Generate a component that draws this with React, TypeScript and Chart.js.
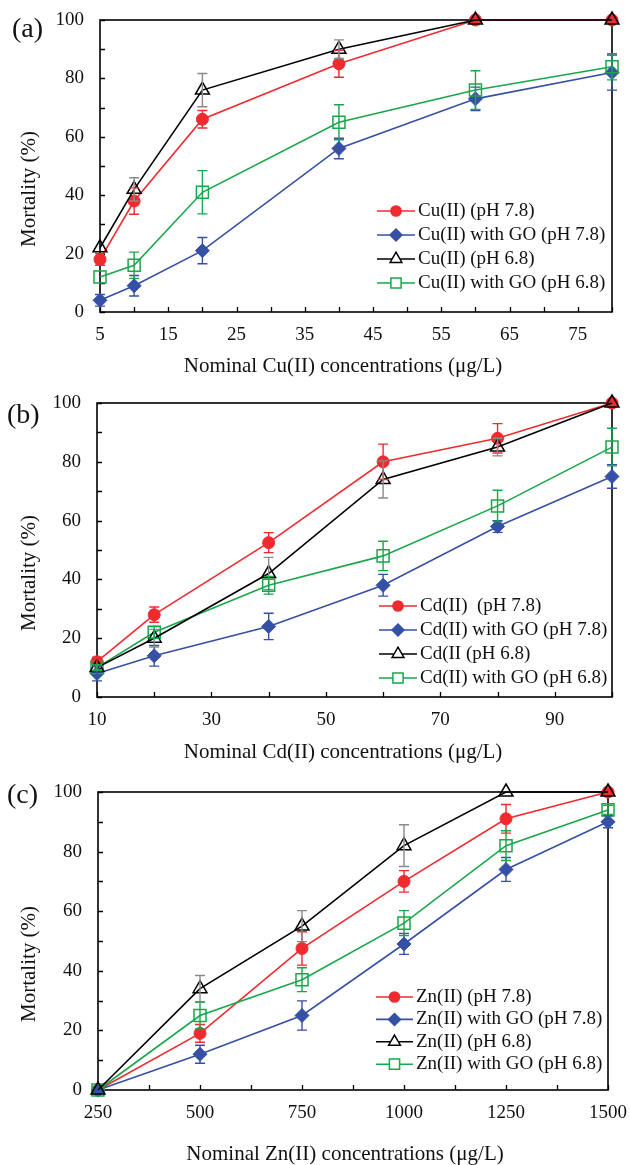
import React, { useEffect, useRef } from "react";
import { Chart, registerables } from "chart.js";

Chart.register(...registerables);

// ---------------- Panel (a): Cu(II) ----------------
const cuConcentrations = [5, 10, 20, 40, 60, 80];
const cuPH78 = [18, 38, 66, 85, 100, 100];
const cuPH78Err = [2, 4.5, 3, 4.6, 0, 0];
const cuGOPH78 = [4, 9, 21, 56, 73, 82];
const cuGOPH78Err = [2, 3.5, 4.5, 3.5, 4, 6];
const cuPH68 = [22, 42, 76, 90, 100, 100];
const cuPH68Err = [0, 4, 5.7, 3.2, 0, 0];
const cuGOPH68 = [12, 16, 41, 65, 76, 84];
const cuGOPH68Err = [0, 4.5, 7.4, 6, 6.6, 4.5];
const cuXTickLabels = [5, 15, 25, 35, 45, 55, 65, 75];
const cuXTickMarks = [5, 10, 15, 20, 25, 30, 35, 40, 45, 50, 55, 60, 65, 70, 75, 80];
const cuLegend = ["Cu(II) (pH 7.8)", "Cu(II) with GO (pH 7.8)", "Cu(II) (pH 6.8)", "Cu(II) with GO (pH 6.8)"];

// ---------------- Panel (b): Cd(II) ----------------
const cdConcentrations = [10, 20, 40, 60, 80, 100];
const cdPH78 = [12, 28, 52.5, 80, 88, 100];
const cdPH78Err = [1.5, 2.6, 3.4, 6, 5, 0];
const cdGOPH78 = [8, 14, 24, 38, 58, 75];
const cdGOPH78Err = [2.5, 3.5, 4.5, 3.7, 2, 4];
const cdPH68 = [10, 20, 42, 74, 85, 100];
const cdPH68Err = [1, 3, 5.5, 6.3, 3, 0];
const cdGOPH68 = [10, 22, 38, 48, 65, 85];
const cdGOPH68Err = [1, 2, 3, 5, 5.3, 6.4];
const cdXTickLabels = [10, 30, 50, 70, 90];
const cdXTickMarks = [10, 20, 30, 40, 50, 60, 70, 80, 90, 100];
const cdLegend = ["Cd(II)  (pH 7.8)", "Cd(II) with GO (pH 7.8)", "Cd(II (pH 6.8)", "Cd(II) with GO (pH 6.8)"];

// ---------------- Panel (c): Zn(II) ----------------
const znConcentrations = [250, 500, 750, 1000, 1250, 1500];
const znPH78 = [0, 19, 47.5, 70, 91, 100];
const znPH78Err = [0, 3, 5.6, 3.6, 4.8, 0];
const znGOPH78 = [0, 12, 25, 49, 74, 90];
const znGOPH78Err = [0, 3, 4.9, 3.5, 4, 2];
const znPH68 = [0, 34, 55, 82, 100, 100];
const znPH68Err = [0, 4.4, 5.2, 7, 0, 0];
const znGOPH68 = [0, 25, 37, 56, 82, 94];
const znGOPH68Err = [0, 4.5, 4, 4.2, 5, 1.5];
const znXTickLabels = [250, 500, 750, 1000, 1250, 1500];
const znXTickMarks = [250, 375, 500, 625, 750, 875, 1000, 1125, 1250, 1375, 1500];
const znLegend = ["Zn(II) (pH 7.8)", "Zn(II) with GO (pH 7.8)", "Zn(II) (pH 6.8)", "Zn(II) with GO (pH 6.8)"];

// ---------------- Shared axis ----------------
const yTickLabels = [0, 20, 40, 60, 80, 100];
const yTickMarks = [0, 10, 20, 30, 40, 50, 60, 70, 80, 90, 100];
const yTitle = "Mortality (%)";

// ---------------- Styles ----------------
const FONT = '"Liberation Serif", "Times New Roman", serif';
const RED = "#EE2B2F";
const BLUE = "#3550A5";
const BLACK = "#000000";
const GREEN = "#1AA64A";
const GRAY = "#8A8A8A";

type MarkerStyle = "circle" | "rectRot" | "triangle" | "rect";

interface SeriesStyle {
  color: string;
  errColor: string;
  marker: MarkerStyle;
  radius: number;
  filled: boolean;
  order: number;
}

const seriesStyles: SeriesStyle[] = [
  { color: RED, errColor: RED, marker: "circle", radius: 6, filled: true, order: 3 },
  { color: BLUE, errColor: BLUE, marker: "rectRot", radius: 7, filled: true, order: 2 },
  { color: BLACK, errColor: GRAY, marker: "triangle", radius: 8, filled: false, order: 0 },
  { color: GREEN, errColor: GREEN, marker: "rect", radius: 8.5, filled: false, order: 1 },
];

interface PanelCfg {
  tag: string;
  top: number;
  height: number;
  area: { l: number; t: number; r: number; b: number };
  xMin: number;
  xMax: number;
  x: number[];
  values: number[][];
  errors: number[][];
  labels: string[];
  xTickLabels: number[];
  xTickMarks: number[];
  xTitle: string;
  xTitlePos: { x: number; y: number };
  yTitlePos: { x: number; y: number };
  tagPos: { x: number; y: number };
  legend: { x1: number; x2: number; tx: number; y0: number; dy: number };
}

const W = 630;

const panels: PanelCfg[] = [
  {
    tag: "(a)",
    top: 0,
    height: 380,
    area: { l: 100, t: 20, r: 612, b: 312 },
    xMin: 5,
    xMax: 80,
    x: cuConcentrations,
    values: [cuPH78, cuGOPH78, cuPH68, cuGOPH68],
    errors: [cuPH78Err, cuGOPH78Err, cuPH68Err, cuGOPH68Err],
    labels: cuLegend,
    xTickLabels: cuXTickLabels,
    xTickMarks: cuXTickMarks,
    xTitle: "Nominal Cu(II) concentrations (μg/L)",
    xTitlePos: { x: 343, y: 366 },
    yTitlePos: { x: 29, y: 189 },
    tagPos: { x: 12, y: 30 },
    legend: { x1: 377, x2: 415, tx: 418, y0: 211, dy: 24 },
  },
  {
    tag: "(b)",
    top: 380,
    height: 390,
    area: { l: 97, t: 23, r: 612, b: 317 },
    xMin: 10,
    xMax: 100,
    x: cdConcentrations,
    values: [cdPH78, cdGOPH78, cdPH68, cdGOPH68],
    errors: [cdPH78Err, cdGOPH78Err, cdPH68Err, cdGOPH68Err],
    labels: cdLegend,
    xTickLabels: cdXTickLabels,
    xTickMarks: cdXTickMarks,
    xTitle: "Nominal Cd(II) concentrations (μg/L)",
    xTitlePos: { x: 343, y: 372 },
    yTitlePos: { x: 29, y: 193 },
    tagPos: { x: 7, y: 36 },
    legend: { x1: 379, x2: 417, tx: 420, y0: 226, dy: 24 },
  },
  {
    tag: "(c)",
    top: 770,
    height: 395,
    area: { l: 98, t: 22, r: 608, b: 320 },
    xMin: 250,
    xMax: 1500,
    x: znConcentrations,
    values: [znPH78, znGOPH78, znPH68, znGOPH68],
    errors: [znPH78Err, znGOPH78Err, znPH68Err, znGOPH68Err],
    labels: znLegend,
    xTickLabels: znXTickLabels,
    xTickMarks: znXTickMarks,
    xTitle: "Nominal Zn(II) concentrations (μg/L)",
    xTitlePos: { x: 345, y: 384 },
    yTitlePos: { x: 29, y: 194 },
    tagPos: { x: 7, y: 26 },
    legend: { x1: 376, x2: 413, tx: 416, y0: 227, dy: 22.4 },
  },
];

function drawMarker(
  ctx: CanvasRenderingContext2D,
  st: SeriesStyle,
  x: number,
  y: number,
  r: number
) {
  ctx.save();
  ctx.beginPath();
  if (st.marker === "circle") {
    ctx.arc(x, y, r, 0, Math.PI * 2);
  } else if (st.marker === "rectRot") {
    ctx.moveTo(x, y - r);
    ctx.lineTo(x + r, y);
    ctx.lineTo(x, y + r);
    ctx.lineTo(x - r, y);
    ctx.closePath();
  } else if (st.marker === "triangle") {
    const h = (r * Math.sqrt(3)) / 2;
    ctx.moveTo(x, y - r);
    ctx.lineTo(x + h, y + r / 2);
    ctx.lineTo(x - h, y + r / 2);
    ctx.closePath();
  } else {
    const s = r * Math.SQRT1_2;
    ctx.rect(x - s, y - s, 2 * s, 2 * s);
  }
  ctx.fillStyle = st.filled ? st.color : "#ffffff";
  ctx.fill();
  ctx.lineWidth = 1.5;
  ctx.strokeStyle = st.color;
  ctx.stroke();
  ctx.restore();
}

function makeDecor(p: PanelCfg) {
  return {
    id: "decor" + p.tag,
    beforeDatasetsDraw(chart: any) {
      const ctx: CanvasRenderingContext2D = chart.ctx;
      const { left, top, right, bottom } = chart.chartArea;
      const xs = chart.scales.x;
      const ys = chart.scales.y;
      ctx.save();
      ctx.strokeStyle = "#000";
      ctx.lineWidth = 1.6;
      ctx.strokeRect(left, top, right - left, bottom - top);
      ctx.lineWidth = 1.3;
      ctx.beginPath();
      for (const v of p.xTickMarks) {
        const px = Math.round(xs.getPixelForValue(v)) + 0.5;
        ctx.moveTo(px, bottom);
        ctx.lineTo(px, bottom - 5);
      }
      for (const v of yTickMarks) {
        const py = Math.round(ys.getPixelForValue(v)) + 0.5;
        ctx.moveTo(left, py);
        ctx.lineTo(left + 5, py);
      }
      ctx.stroke();
      ctx.restore();
    },
    afterDatasetsDraw(chart: any) {
      const ctx: CanvasRenderingContext2D = chart.ctx;
      const xs = chart.scales.x;
      const ys = chart.scales.y;
      ctx.save();
      ctx.lineWidth = 1.4;
      p.values.forEach((vals, si) => {
        const st = seriesStyles[si];
        ctx.strokeStyle = st.errColor;
        vals.forEach((v, i) => {
          const e = p.errors[si][i];
          if (!e) return;
          const px = xs.getPixelForValue(p.x[i]);
          const y1 = ys.getPixelForValue(v + e);
          const y2 = ys.getPixelForValue(v - e);
          ctx.beginPath();
          ctx.moveTo(px, y1);
          ctx.lineTo(px, y2);
          ctx.moveTo(px - 5, y1);
          ctx.lineTo(px + 5, y1);
          ctx.moveTo(px - 5, y2);
          ctx.lineTo(px + 5, y2);
          ctx.stroke();
        });
      });
      ctx.restore();
    },
    afterDraw(chart: any) {
      const ctx: CanvasRenderingContext2D = chart.ctx;
      ctx.save();
      ctx.fillStyle = "#111";
      ctx.font = `21px ${FONT}`;
      ctx.textAlign = "center";
      ctx.textBaseline = "middle";
      ctx.fillText(p.xTitle, p.xTitlePos.x, p.xTitlePos.y);
      ctx.save();
      ctx.translate(p.yTitlePos.x, p.yTitlePos.y);
      ctx.rotate(-Math.PI / 2);
      ctx.fillText(yTitle, 0, 0);
      ctx.restore();
      ctx.font = `28px ${FONT}`;
      ctx.textAlign = "left";
      ctx.fillText(p.tag, p.tagPos.x, p.tagPos.y);
      const lg = p.legend;
      ctx.font = `19px ${FONT}`;
      p.labels.forEach((lab, i) => {
        const st = seriesStyles[i];
        const y = lg.y0 + i * lg.dy;
        ctx.strokeStyle = st.color;
        ctx.lineWidth = 1.6;
        ctx.beginPath();
        ctx.moveTo(lg.x1, y);
        ctx.lineTo(lg.x2, y);
        ctx.stroke();
        drawMarker(ctx, st, (lg.x1 + lg.x2) / 2, y, st.radius * 0.85);
        ctx.fillStyle = "#111";
        ctx.textAlign = "left";
        ctx.textBaseline = "middle";
        ctx.fillText(lab, lg.tx, y);
      });
      ctx.restore();
    },
  };
}

function Panel({ p }: { p: PanelCfg }) {
  const ref = useRef<HTMLCanvasElement>(null);
  useEffect(() => {
    const canvas = ref.current;
    if (!canvas) return;
    const chart = new Chart(canvas, {
      type: "line",
      data: {
        datasets: p.values.map((vals, si) => {
          const st = seriesStyles[si];
          const fillCol = st.filled ? st.color : "rgba(0,0,0,0)";
          return {
            label: p.labels[si],
            data: p.x.map((x, i) => ({ x, y: vals[i] })),
            borderColor: st.color,
            backgroundColor: fillCol,
            borderWidth: 1.6,
            pointStyle: st.marker,
            pointRadius: st.radius,
            pointHoverRadius: st.radius,
            pointBackgroundColor: fillCol,
            pointBorderColor: st.color,
            pointBorderWidth: st.filled ? 1 : 1.5,
            tension: 0,
            fill: false,
            clip: false as any,
            order: st.order,
          };
        }),
      },
      options: {
        responsive: false,
        animation: false,
        events: [],
        layout: {
          padding: { left: 0, top: p.area.t, right: W - p.area.r, bottom: 0 },
        },
        plugins: {
          legend: { display: false },
          tooltip: { enabled: false },
        },
        scales: {
          x: {
            type: "linear",
            position: "bottom",
            min: p.xMin,
            max: p.xMax,
            grid: { display: false, drawTicks: false, tickLength: 0 },
            border: { display: false },
            ticks: {
              padding: 12,
              autoSkip: false,
              maxRotation: 0,
              color: "#111",
              font: { size: 19, family: FONT },
              callback: (v: any) => String(v),
            },
            afterBuildTicks: (s: any) => {
              s.ticks = p.xTickLabels.map((v) => ({ value: v }));
            },
            afterFit: (s: any) => {
              s.height = p.height - p.area.b;
              s.paddingLeft = 0;
              s.paddingRight = 0;
            },
          },
          y: {
            type: "linear",
            position: "left",
            min: 0,
            max: 100,
            grid: { display: false, drawTicks: false, tickLength: 0 },
            border: { display: false },
            ticks: {
              padding: 16,
              autoSkip: false,
              color: "#111",
              font: { size: 19, family: FONT },
              callback: (v: any) => String(v),
            },
            afterBuildTicks: (s: any) => {
              s.ticks = yTickLabels.map((v) => ({ value: v }));
            },
            afterFit: (s: any) => {
              s.width = p.area.l;
              s.paddingTop = 0;
              s.paddingBottom = 0;
            },
          },
        },
      } as any,
      plugins: [makeDecor(p)],
    });
    return () => chart.destroy();
  }, [p]);
  return (
    <canvas
      ref={ref}
      width={W}
      height={p.height}
      style={{ position: "absolute", left: 0, top: p.top, display: "block" }}
    />
  );
}

export default function App() {
  return (
    <div
      style={{
        position: "absolute",
        left: 0,
        top: 0,
        width: W,
        height: 1165,
        background: "#ffffff",
        overflow: "hidden",
      }}
    >
      {panels.map((p) => (
        <Panel key={p.tag} p={p} />
      ))}
    </div>
  );
}
